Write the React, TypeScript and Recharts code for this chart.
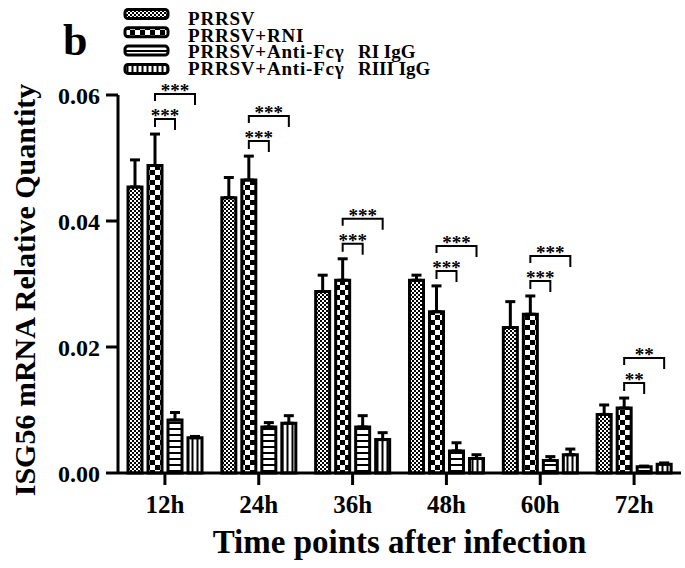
import React from 'react';
import { BarChart, Bar, XAxis, YAxis, ErrorBar, Rectangle, Label } from 'recharts';

// ISG56 mRNA relative quantity
const timePoints = ['12h', '24h', '36h', '48h', '60h', '72h'];
const prrsv = [0.0454, 0.0437, 0.0288, 0.0306, 0.0231, 0.0093];
const prrsvErr = [0.0043, 0.0032, 0.0026, 0.0008, 0.0041, 0.0015];
const rni = [0.0488, 0.0465, 0.0306, 0.0256, 0.0252, 0.0103];
const rniErr = [0.005, 0.0038, 0.0034, 0.0041, 0.0029, 0.0016];
const antiRI = [0.0084, 0.0073, 0.0073, 0.0035, 0.002, 0.001];
const antiRIErr = [0.0012, 0.0007, 0.0018, 0.0013, 0.0006, 0.0001];
const antiRIII = [0.0056, 0.0079, 0.0053, 0.0023, 0.0029, 0.0014];
const antiRIIIErr = [0.0002, 0.0012, 0.0011, 0.0006, 0.0009, 0.0002];
// significance marks: RNI vs Anti-FcγRI, RNI vs Anti-FcγRIII
const sigVsRI = ['***', '***', '***', '***', '***', '**'];
const sigVsRIII = ['***', '***', '***', '***', '***', '**'];
const yTicks = [0, 0.02, 0.04, 0.06];
const seriesNames = ['PRRSV', 'PRRSV+RNI', 'PRRSV+Anti-Fcγ  RI IgG', 'PRRSV+Anti-Fcγ  RIII IgG'];
const seriesFills = ['url(#pFine)', 'url(#pCheck)', 'url(#pHoriz)', 'url(#pVert)'];

const FONT = '"Liberation Serif", "Times New Roman", serif';
const BAR_SIZE = 14;
const BAR_GAP = 6;

const data = timePoints.map((t, i) => ({
  time: t,
  prrsv: prrsv[i],
  prrsvErr: [0, prrsvErr[i]],
  rni: rni[i],
  rniErr: [0, rniErr[i]],
  antiRI: antiRI[i],
  antiRIErr: [0, antiRIErr[i]],
  antiRIII: antiRIII[i],
  antiRIIIErr: [0, antiRIIIErr[i]],
  sigLow: sigVsRI[i],
  sigHigh: sigVsRIII[i],
}));

function Patterns() {
  return (
    <svg width={0} height={0} style={{ position: 'absolute' }}>
      <defs>
        <pattern id="pFine" width={4} height={4} patternUnits="userSpaceOnUse">
          <rect width={4} height={4} fill="#fff" />
          <rect width={2} height={2} fill="#000" />
          <rect x={2} y={2} width={2} height={2} fill="#000" />
        </pattern>
        <pattern id="pCheck" width={10} height={10} patternUnits="userSpaceOnUse">
          <rect width={10} height={10} fill="#fff" />
          <rect width={5} height={5} fill="#000" />
          <rect x={5} y={5} width={5} height={5} fill="#000" />
        </pattern>
        <pattern id="pHoriz" width={6} height={6} patternUnits="userSpaceOnUse">
          <rect width={6} height={6} fill="#fff" />
          <rect y={2} width={6} height={2} fill="#000" />
        </pattern>
        <pattern id="pVert" width={5} height={5} patternUnits="userSpaceOnUse">
          <rect width={5} height={5} fill="#fff" />
          <rect x={1.5} width={2} height={5} fill="#000" />
        </pattern>
      </defs>
    </svg>
  );
}

// RNI bar also carries the significance brackets to the two Anti-Fcγ bars
function RniBar(props: any) {
  const { x, y, width, height, payload, fill } = props;
  const step = width + BAR_GAP;
  const pxPerUnit = height / payload.rni;
  const capY = y - payload.rniErr[1] * pxPerUnit;
  const x0 = x + width / 2;
  const x1 = x0 + step;
  const x2 = x0 + 2 * step;
  const yLow = capY - 15;
  const yHigh = capY - 40;
  const starStyle = { fontFamily: FONT, fontWeight: 'bold', fontSize: 19 } as const;
  return (
    <g>
      <Rectangle x={x} y={y} width={width} height={height} fill={fill} stroke="#000" strokeWidth={3} />
      <path d={`M${x0},${yLow + 8}V${yLow}H${x1}V${yLow + 11}`} fill="none" stroke="#000" strokeWidth={2} />
      <text x={(x0 + x1) / 2} y={yLow + 3} textAnchor="middle" fill="#000" style={starStyle}>
        {payload.sigLow}
      </text>
      <path d={`M${x0},${yHigh + 7}V${yHigh}H${x2}V${yHigh + 11}`} fill="none" stroke="#000" strokeWidth={2} />
      <text x={(x0 + x2) / 2} y={yHigh + 3} textAnchor="middle" fill="#000" style={starStyle}>
        {payload.sigHigh}
      </text>
    </g>
  );
}

function LegendOverlay() {
  return (
    <svg width={685} height={90} style={{ position: 'absolute', left: 0, top: 0, pointerEvents: 'none' }}>
      <text x={63} y={55} fill="#000" style={{ fontFamily: FONT, fontWeight: 'bold', fontSize: 44 }}>
        b
      </text>
      {seriesNames.map((name, i) => {
        const [main, suffix] = name.split('  ');
        return (
          <g key={name}>
            <rect
              x={125}
              y={14 + i * 18.3 - 4.5}
              width={43}
              height={9}
              rx={3}
              fill={seriesFills[i]}
              stroke="#000"
              strokeWidth={3}
            />
            <text
              x={188}
              y={25 + i * 16.7}
              fill="#000"
              style={{ fontFamily: FONT, fontWeight: 'bold', fontSize: 19, whiteSpace: 'pre' }}
            >
              <tspan style={{ letterSpacing: 0.8 }}>{main}</tspan>
              {suffix ? <tspan x={358}>{suffix}</tspan> : null}
            </text>
          </g>
        );
      })}
    </svg>
  );
}

const axisStroke = { stroke: '#000', strokeWidth: 3 };
const tickFont = { fill: '#000', fontSize: 24, fontWeight: 'bold', fontFamily: FONT };

export default function App() {
  return (
    <div style={{ position: 'relative', width: 685, height: 568, background: '#fff' }}>
      <style>{'body{margin:0;background:#fff}'}</style>
      <Patterns />
      <BarChart
        width={685}
        height={568}
        data={data}
        margin={{ top: 95, right: 4, bottom: 0, left: 0 }}
        barSize={BAR_SIZE}
        barGap={BAR_GAP}
      >
        <XAxis
          dataKey="time"
          height={95}
          tickSize={12}
          tickMargin={10}
          axisLine={axisStroke}
          tickLine={axisStroke}
          tick={{ ...tickFont, fontSize: 25 }}
          interval={0}
        >
          <Label
            content={({ viewBox }: any) => (
              <text
                x={viewBox.x + viewBox.width / 2}
                y={viewBox.y + 80}
                textAnchor="middle"
                fill="#000"
                style={{ fontFamily: FONT, fontWeight: 'bold', fontSize: 33 }}
              >
                Time points after infection
              </text>
            )}
          />
        </XAxis>
        <YAxis
          domain={[0, 0.06]}
          ticks={yTicks}
          tickFormatter={(v: number) => v.toFixed(2)}
          width={118}
          tickSize={12}
          tickMargin={6}
          axisLine={axisStroke}
          tickLine={axisStroke}
          tick={tickFont}
          interval={0}
        >
          <Label
            content={({ viewBox }: any) => {
              const cy = viewBox.y + viewBox.height / 2 + 6;
              return (
                <text
                  x={35}
                  y={cy}
                  transform={`rotate(-90, 35, ${cy})`}
                  textAnchor="middle"
                  fill="#000"
                  style={{ fontFamily: FONT, fontWeight: 'bold', fontSize: 30 }}
                >
                  ISG56 mRNA Relative Quantity
                </text>
              );
            }}
          />
        </YAxis>
        <Bar dataKey="prrsv" name={seriesNames[0]} fill={seriesFills[0]} stroke="#000" strokeWidth={3} isAnimationActive={false}>
          <ErrorBar dataKey="prrsvErr" width={5} stroke="#000" strokeWidth={3} direction="y" isAnimationActive={false} />
        </Bar>
        <Bar
          dataKey="rni"
          name={seriesNames[1]}
          fill={seriesFills[1]}
          stroke="#000"
          strokeWidth={3}
          shape={RniBar}
          isAnimationActive={false}
        >
          <ErrorBar dataKey="rniErr" width={5} stroke="#000" strokeWidth={3} direction="y" isAnimationActive={false} />
        </Bar>
        <Bar dataKey="antiRI" name={seriesNames[2]} fill={seriesFills[2]} stroke="#000" strokeWidth={3} isAnimationActive={false}>
          <ErrorBar dataKey="antiRIErr" width={5} stroke="#000" strokeWidth={3} direction="y" isAnimationActive={false} />
        </Bar>
        <Bar dataKey="antiRIII" name={seriesNames[3]} fill={seriesFills[3]} stroke="#000" strokeWidth={3} isAnimationActive={false}>
          <ErrorBar dataKey="antiRIIIErr" width={5} stroke="#000" strokeWidth={3} direction="y" isAnimationActive={false} />
        </Bar>
      </BarChart>
      <LegendOverlay />
    </div>
  );
}
